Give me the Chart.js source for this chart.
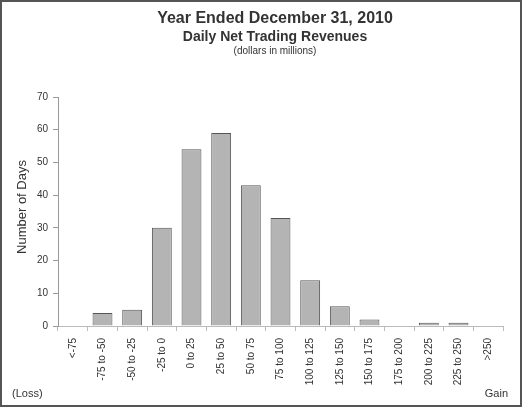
<!DOCTYPE html>
<html>
<head>
<meta charset="utf-8">
<script src="https://cdn.jsdelivr.net/npm/chart.js@4"></script>
<style>
  html, body { margin: 0; padding: 0; background: #fff; }
  #wrap { width: 522px; height: 407px; }
</style>
</head>
<body>
<div id="wrap"><canvas id="chart" width="522" height="407"></canvas></div>
<script>
// Daily net trading revenue buckets (dollars in millions)
const categories = ['<-75', '-75 to -50', '-50 to -25', '-25 to 0', '0 to 25', '25 to 50',
    '50 to 75', '75 to 100', '100 to 125', '125 to 150', '150 to 175', '175 to 200',
    '200 to 225', '225 to 250', '>250'];
const days = [0, 4, 5, 30, 54, 59, 43, 33, 14, 6, 2, 0, 1, 1, 0];
const yTicks = [0, 10, 20, 30, 40, 50, 60, 70];

const titleLines = ['Year Ended December 31, 2010', 'Daily Net Trading Revenues', '(dollars in millions)'];
const yTitle = 'Number of Days';

const textColor = '#333';
const font = 'Liberation Sans, Arial, sans-serif';

// Titles, axis title, Loss/Gain notes and the outer frame
const decorations = {
    id: 'decorations',
    afterDraw(chart) {
        const ctx = chart.ctx;
        ctx.save();
        ctx.fillStyle = textColor;
        ctx.textAlign = 'center';
        ctx.textBaseline = 'alphabetic';
        ctx.font = 'bold 16px ' + font;
        ctx.fillText(titleLines[0], 275, 23);
        ctx.font = 'bold 14px ' + font;
        ctx.fillText(titleLines[1], 275, 41);
        ctx.font = '10px ' + font;
        ctx.fillText(titleLines[2], 275, 54);

        ctx.font = '11px ' + font;
        ctx.textAlign = 'left';
        ctx.fillText('(Loss)', 12, 397);
        ctx.textAlign = 'right';
        ctx.fillText('Gain', 508, 397);

        // y title, rotated
        ctx.save();
        ctx.translate(22, 207);
        ctx.rotate(-Math.PI / 2);
        ctx.textAlign = 'center';
        ctx.textBaseline = 'middle';
        ctx.font = '13px ' + font;
        ctx.fillText(yTitle, 0, 0);
        ctx.restore();

        ctx.strokeStyle = '#555';
        ctx.lineWidth = 2;
        ctx.strokeRect(1, 1, chart.width - 2, chart.height - 2);
        ctx.restore();
    }
};

new Chart(document.getElementById('chart').getContext('2d'), {
    type: 'bar',
    data: {
        labels: categories,
        datasets: [{
            data: days,
            backgroundColor: '#b4b4b4',
            borderColor: '#555',
            borderWidth: 1,
            barPercentage: 0.67,
            categoryPercentage: 1,
        }]
    },
    options: {
        responsive: false,
        animation: false,
        layout: {
            padding: { left: 0, top: 97, right: 19, bottom: 0 }
        },
        plugins: {
            legend: { display: false },
            tooltip: { enabled: false },
        },
        scales: {
            x: {
                offset: true,
                afterFit(scale) { scale.height = 81; },
                grid: {
                    drawOnChartArea: false,
                    offset: true,
                    color: '#bbb',
                    tickLength: 5,
                },
                border: { color: '#bbb' },
                ticks: {
                    color: textColor,
                    font: { family: font, size: 10 },
                    minRotation: 90,
                    maxRotation: 90,
                    padding: 7,
                    autoSkip: false,
                },
            },
            y: {
                min: 0,
                max: 70,
                afterFit(scale) { scale.width = 58; },
                afterBuildTicks(scale) { scale.ticks = yTicks.map(v => ({ value: v })); },
                grid: {
                    drawOnChartArea: false,
                    color: '#999',
                    tickLength: 5,
                },
                border: { color: '#999' },
                ticks: {
                    color: textColor,
                    font: { family: font, size: 10 },
                    padding: 5,
                },
            },
        },
    },
    plugins: [decorations],
});
</script>
</body>
</html>
